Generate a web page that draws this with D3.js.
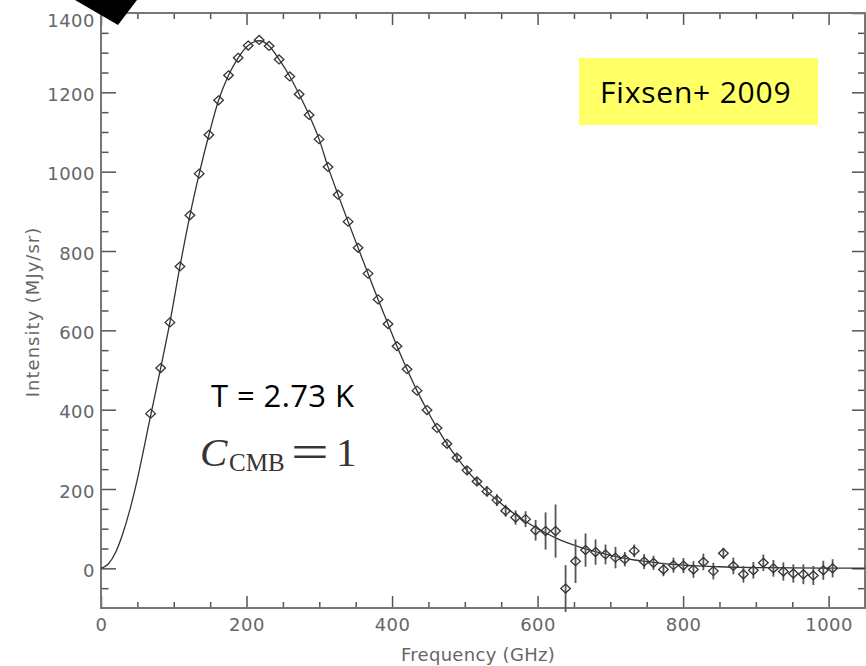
<!DOCTYPE html>
<html>
<head>
<meta charset="utf-8">
<title>CMB spectrum</title>
<script src="https://cdn.jsdelivr.net/npm/d3@7"></script>
<style>
  body { margin: 0; background: #fff; }
  svg { display: block; }
  .tick text { font-family: "DejaVu Sans", sans-serif; font-size: 18px; fill: #666; }
  .tick line { stroke: #555; stroke-width: 1.5; }
</style>
</head>
<body>
<svg id="chart" width="866" height="666"></svg>
<script>
// measured spectrum, GHz vs MJy/sr
const freq = [
  68.2, 82.0, 94.7, 108.5, 122.2, 135.0, 148.3, 161.6, 175.3, 188.5,
  202.3, 217.4, 231.1, 244.8, 259.5, 272.3, 286.0, 299.7, 312.0, 325.8,
  339.6, 353.3, 367.0, 380.8, 394.5, 406.8, 420.6, 434.3, 448.0, 461.8,
  475.5, 489.2, 503.0, 516.7, 530.4, 544.1, 556.1, 569.8, 583.5, 597.3,
  611.0, 624.7, 638.5, 652.2, 665.9, 679.7, 693.4, 707.1, 719.9, 732.8,
  746.5, 759.3, 773.0, 786.8, 800.5, 814.2, 827.9, 841.6, 855.4, 869.1,
  882.9, 896.6, 910.3, 924.1, 937.8, 951.5, 965.3, 979.0, 992.7, 1005.5
];
const intensity = [
  390, 505, 620, 761, 890, 995, 1093, 1180, 1243, 1287,
  1318, 1332, 1317, 1283, 1240, 1195, 1143, 1082, 1012, 942,
  874, 808, 743, 678, 616, 560, 502, 448, 399, 354,
  314, 279, 247, 219, 194, 172, 145, 128, 124, 96,
  94, 94, -51, 18, 46, 41, 35, 27, 23, 44,
  17, 14, -3, 8, 7, -3, 16, -7, 38, 6,
  -15, -5, 14, 0, -8, -13, -15, -18, -5, 0
];
// half length of the error bars (0 = hidden under the marker)
const errBar = [
  0, 0, 0, 0, 0, 0, 0, 0, 0, 0,
  0, 0, 0, 0, 0, 0, 0, 0, 0, 0,
  0, 0, 0, 0, 0, 0, 0, 0, 0, 0,
  6, 8, 9, 11, 13, 15, 15, 18, 20, 26,
  47, 67, 59, 55, 42, 32, 25, 27, 18, 16,
  19, 18, 17, 19, 19, 21, 21, 21, 14, 21,
  21, 21, 21, 21, 23, 23, 25, 24, 24, 23
];

// blackbody fit, T = 2.73 K
const fitFreq = [
  0, 10, 20, 30, 40, 50, 60,
  68.2, 82, 94.7, 108.5, 122.2, 135, 148.3, 161.6, 175.3, 188.5,
  202.3, 217.4, 231.1, 244.8, 259.5, 272.3, 286, 299.7, 312, 325.8,
  339.6, 353.3, 367, 380.8, 394.5, 406.8, 420.6, 434.3, 448, 461.8,
  475.5, 489.2, 503, 516.7, 530.4, 544.1, 556.1, 569.8, 583.5, 597.3,
  611, 624.7, 638.5, 652.2, 665.9, 679.7, 693.4, 707.1, 720, 733,
  746.5, 760, 773, 787, 800,
  850, 900, 950, 1000, 1050
];
const fitIntensity = [
  0, 11, 40, 88, 150, 225, 312,
  385, 505, 620, 761, 890, 995, 1093, 1180, 1243, 1287,
  1318, 1330, 1317, 1283, 1240, 1195, 1143, 1082, 1012, 942,
  874, 808, 743, 678, 616, 560, 502, 448, 399, 354,
  314, 279, 247, 219, 194, 172, 154, 135, 118, 103,
  89, 77, 66, 57, 49, 42, 36, 30, 25, 21,
  18, 15, 12, 10, 8,
  4, 2, 1, 0.5, 0.2
];

const xTicks = [0, 200, 400, 600, 800, 1000];
const yTicks = [0, 200, 400, 600, 800, 1000, 1200, 1400];
const xMinor = d3.range(50, 1050, 50).filter(v => v % 200 !== 0);
const yMinor = d3.range(-50, 1400, 50).filter(v => v % 200 !== 0);

const svg = d3.select("#chart");

// plot box
const box = { left: 101, right: 865, top: 13, bottom: 608 };

const x = d3.scaleLinear().domain([0, 1050]).range([box.left, box.right]);
const y = d3.scaleLinear().domain([-100, 1400]).range([box.bottom, box.top]);

svg.append("rect").attr("width", 866).attr("height", 666).attr("fill", "#fff");

// ticks on all four sides, all pointing inwards
function ticks(axis, tr, values, size, pad, labelled) {
  const g = svg.append("g")
    .attr("transform", tr)
    .call(axis
      .tickValues(values)
      .tickSize(size)
      .tickSizeOuter(0)
      .tickPadding(pad)
      .tickFormat(labelled ? d3.format("d") : ""));
  g.select(".domain").remove();
  return g;
}

const xAxisG = ticks(d3.axisBottom(x), `translate(0,${box.bottom})`, xTicks, -12, 10, true);
ticks(d3.axisBottom(x), `translate(0,${box.bottom})`, xMinor, -6, 10, false);
ticks(d3.axisTop(x), `translate(0,${box.top})`, xTicks, -12, 0, false);
ticks(d3.axisTop(x), `translate(0,${box.top})`, xMinor, -6, 0, false);

const yAxisG = ticks(d3.axisLeft(y), `translate(${box.left},0)`, yTicks, -15, 6, true);
ticks(d3.axisLeft(y), `translate(${box.left},0)`, yMinor, -7.5, 6, false);
ticks(d3.axisRight(y), `translate(${box.right},0)`, yTicks, -13, 0, false);
ticks(d3.axisRight(y), `translate(${box.right},0)`, yMinor, -7, 0, false);

xAxisG.selectAll("text").attr("letter-spacing", "0.5px");
yAxisG.selectAll("text").attr("dy", "0.45em").attr("letter-spacing", "0.5px");
// top label would poke over the frame
yAxisG.selectAll("text").filter(d => d === 1400).attr("dy", "0.75em");

svg.append("rect")
  .attr("x", box.left).attr("y", box.top)
  .attr("width", box.right - box.left).attr("height", box.bottom - box.top)
  .attr("fill", "none")
  .attr("stroke", "#777")
  .attr("stroke-width", 2);

// axis titles
svg.append("text")
  .attr("x", 478).attr("y", 661)
  .attr("text-anchor", "middle")
  .attr("font-family", "DejaVu Sans, sans-serif")
  .attr("font-size", 18)
  .attr("letter-spacing", "0.3px")
  .attr("fill", "#666")
  .text("Frequency (GHz)");

svg.append("text")
  .attr("transform", "translate(39,312) rotate(-90)")
  .attr("text-anchor", "middle")
  .attr("font-family", "DejaVu Sans, sans-serif")
  .attr("font-size", 18)
  .attr("letter-spacing", "1px")
  .attr("fill", "#666")
  .text("Intensity (MJy/sr)");

// fit curve
const fit = fitFreq.map((f, i) => ({ f, v: fitIntensity[i] }));
const line = d3.line()
  .x(d => x(d.f))
  .y(d => y(d.v))
  .curve(d3.curveMonotoneX);

svg.append("path")
  .datum(fit)
  .attr("d", line)
  .attr("fill", "none")
  .attr("stroke", "#333")
  .attr("stroke-width", 1.3);

// data with error bars
const pts = freq.map((f, i) => ({ f, v: intensity[i], e: errBar[i] }));

svg.append("g")
  .selectAll("line")
  .data(pts.filter(d => d.e > 0))
  .join("line")
  .attr("x1", d => x(d.f)).attr("x2", d => x(d.f))
  .attr("y1", d => y(d.v - d.e)).attr("y2", d => y(d.v + d.e))
  .attr("stroke", "#555")
  .attr("stroke-width", 1.8);

const diamond = "M0,-4.5L4.8,0L0,4.5L-4.8,0Z";
svg.append("g")
  .selectAll("path")
  .data(pts)
  .join("path")
  .attr("transform", d => `translate(${x(d.f)},${y(d.v)})`)
  .attr("d", diamond)
  .attr("fill", "none")
  .attr("stroke", "#333")
  .attr("stroke-width", 1.3);

// reference label
svg.append("rect")
  .attr("x", 579).attr("y", 58)
  .attr("width", 239).attr("height", 67)
  .attr("fill", "#ffff66");

svg.append("text")
  .attr("x", 600).attr("y", 103)
  .attr("font-family", "Open Sans, sans-serif")
  .attr("font-size", 30)
  .attr("letter-spacing", "0.8px")
  .attr("fill", "#000")
  .text("Fixsen+ 2009");

svg.append("text")
  .attr("x", 211).attr("y", 407)
  .attr("font-family", "Open Sans, sans-serif")
  .attr("font-size", 31)
  .attr("letter-spacing", "0.4px")
  .attr("fill", "#000")
  .text("T = 2.73 K");

// C_CMB = 1
const eq = svg.append("g")
  .attr("fill", "#383232")
  .attr("font-family", "Liberation Serif, serif");
eq.append("text")
  .attr("x", 200).attr("y", 466)
  .attr("font-style", "italic")
  .attr("font-size", 41)
  .text("C");
eq.append("text")
  .attr("x", 229).attr("y", 471)
  .attr("font-size", 25)
  .text("CMB");
// wide math-style equals sign
eq.append("text")
  .attr("transform", "translate(291,468) scale(1.4,1)")
  .attr("font-size", 48)
  .text("=");
eq.append("text")
  .attr("x", 336).attr("y", 466)
  .attr("font-size", 41)
  .text("1");

// arrow tip poking in at the top
svg.append("polygon")
  .attr("points", "75,0 137,0 118,25")
  .attr("fill", "#000");
</script>
</body>
</html>
